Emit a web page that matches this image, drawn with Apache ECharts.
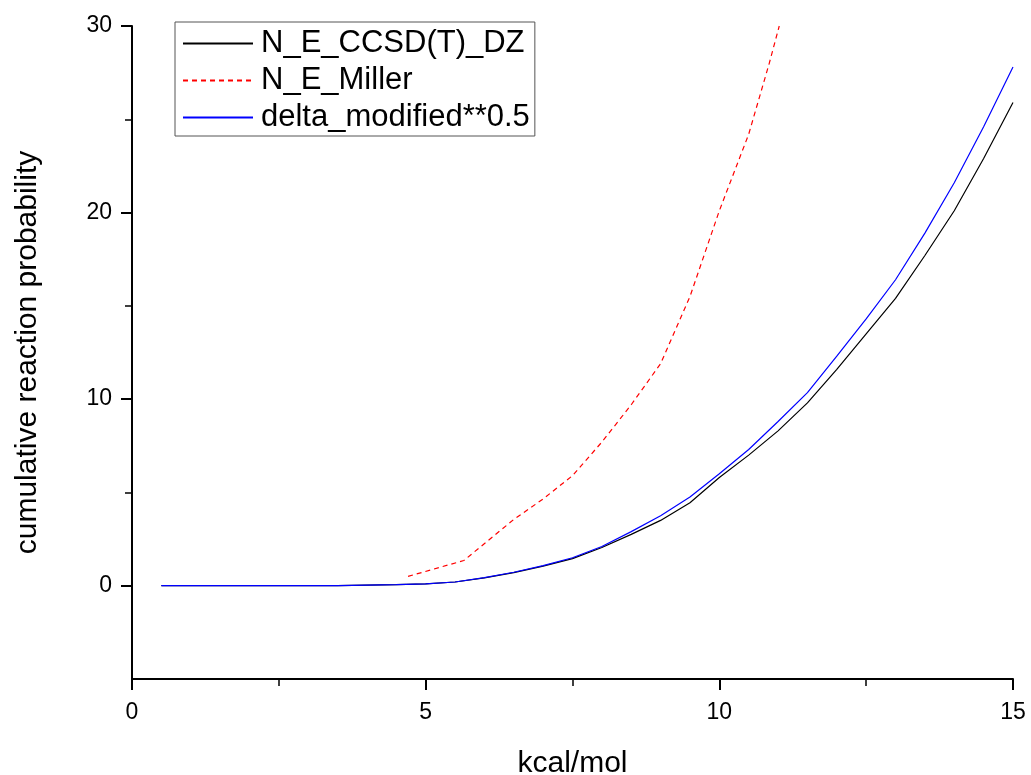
<!DOCTYPE html>
<html>
<head>
<meta charset="utf-8">
<script src="https://cdn.jsdelivr.net/npm/echarts@6/dist/echarts.min.js"></script>
<style>html,body{margin:0;padding:0;background:#fff}#c{width:1031px;height:775px}</style>
</head>
<body>
<div id="c"></div>
<script>
const seriesNames = ['N_E_CCSD(T)_DZ', 'N_E_Miller', 'delta_modified**0.5'];
const energyX = [0.5,1,1.5,2,2.5,3,3.5,4,4.5,5,5.5,6,6.5,7,7.5,8,8.5,9,9.5,10,10.5,11,11.5,12,12.5,13,13.5,14,14.5,15];
const ccsdY   = [0,0,0,0,0,0,0,0.03,0.06,0.1,0.2,0.42,0.7,1.05,1.45,2.05,2.75,3.5,4.45,5.8,7.0,8.3,9.8,11.6,13.5,15.4,17.7,20.1,22.9,25.9];
const deltaY  = [0,0,0,0,0,0,0,0.03,0.06,0.1,0.2,0.43,0.72,1.08,1.5,2.1,2.9,3.75,4.75,6.0,7.3,8.8,10.35,12.3,14.3,16.4,18.9,21.6,24.6,27.8];
const millerX = [4.7,5.65,6.5,7.0,7.5,8.0,8.5,9.0,9.5,10.0,10.5,10.85,11.02];
const millerY = [0.5,1.35,3.55,4.65,5.9,7.7,9.7,11.9,15.5,20.1,24.2,28.0,30.0];
const xTicks = [0,5,10,15];
const yTicks = [0,10,20,30];
const yMinorTicks = [5,15,25];

const zip = (xs, ys) => xs.map((x, i) => [x, ys[i]]);
const FONT = '"Liberation Sans", Arial, sans-serif';

const chart = echarts.init(document.getElementById('c'), null, {renderer: 'canvas'});
chart.setOption({
  animation: false,
  backgroundColor: '#fff',
  grid: {left: 132, right: 18, top: 26, bottom: 96, containLabel: false, outerBoundsMode: 'none'},
  legend: {
    left: 175, top: 22, orient: 'vertical',
    data: seriesNames,
    borderColor: '#555', borderWidth: 1,
    padding: [6, 5, 3, 7],
    itemWidth: 70, itemHeight: 31, itemGap: 6,
    itemStyle: {opacity: 0, borderWidth: 0},
    textStyle: {fontFamily: FONT, fontSize: 31, color: '#000', padding: [0, 0, 0, 3]}
  },
  xAxis: {
    type: 'value', min: 0, max: 15, interval: 5,
    name: 'kcal/mol', nameLocation: 'middle', nameGap: 70,
    nameTextStyle: {fontFamily: FONT, fontSize: 30, color: '#000'},
    axisLine: {show: true, onZero: false, lineStyle: {color: '#000', width: 2}},
    axisTick: {show: true, inside: false, length: 11, lineStyle: {color: '#000', width: 2}},
    minorTick: {show: true, splitNumber: 2, length: 7, lineStyle: {color: '#000', width: 1.5}},
    axisLabel: {fontFamily: FONT, fontSize: 23, color: '#000', margin: 22, customValues: xTicks},
    splitLine: {show: false}
  },
  yAxis: [{
    type: 'value', min: -5, max: 30, interval: 5,
    name: 'cumulative reaction probability', nameLocation: 'middle', nameGap: 89,
    nameTextStyle: {fontFamily: FONT, fontSize: 30, color: '#000'},
    axisLine: {show: true, onZero: false, lineStyle: {color: '#000', width: 2}},
    axisTick: {show: true, inside: false, length: 11, customValues: yTicks, lineStyle: {color: '#000', width: 2}},
    axisLabel: {fontFamily: FONT, fontSize: 23, color: '#000', margin: 20, customValues: yTicks},
    splitLine: {show: false}
  }, {
    type: 'value', min: -5, max: 30, interval: 5, position: 'left',
    axisLine: {show: false},
    axisTick: {show: true, inside: false, length: 7, customValues: yMinorTicks, lineStyle: {color: '#000', width: 1.5}},
    axisLabel: {show: false},
    splitLine: {show: false}
  }],
  series: [
    {name: seriesNames[0], type: 'line', data: zip(energyX, ccsdY), symbol: 'none', smooth: false,
     lineStyle: {color: '#000', width: 1.2}, itemStyle: {color: '#000'}, z: 3},
    {name: seriesNames[1], type: 'line', data: zip(millerX, millerY), symbol: 'none',
     lineStyle: {color: '#ff0000', width: 1.2, type: [5, 4]}, itemStyle: {color: '#ff0000'}, z: 2},
    {name: seriesNames[2], type: 'line', data: zip(energyX, deltaY), symbol: 'none',
     lineStyle: {color: '#0000ff', width: 1.2}, itemStyle: {color: '#0000ff'}, z: 4}
  ]
});
</script>
</body>
</html>
